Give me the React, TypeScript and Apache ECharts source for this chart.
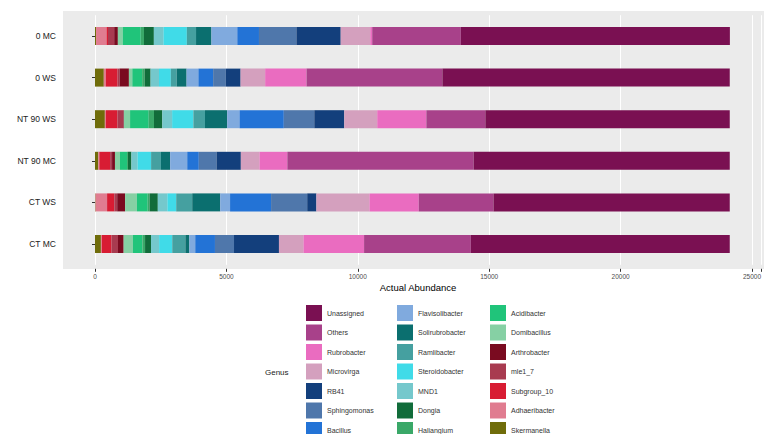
import React, { useEffect, useRef } from "react";
import * as echarts from "echarts";

const categories = ["0 MC", "0 WS", "NT 90 WS", "NT 90 MC", "CT WS", "CT MC"];
const xTicks = [0, 5000, 10000, 15000, 20000, 25000];

// values per genus, in category order above
const unassigned = [10240, 10935, 9300, 9745, 8990, 9855];
const others = [3370, 5170, 2245, 7090, 2845, 4060];
const rubrobacter = [75, 1575, 1870, 1060, 1875, 2305];
const microvirga = [1125, 935, 1255, 710, 2020, 935];
const rb41 = [1685, 560, 1140, 925, 350, 1710];
const sphingomonas = [1425, 485, 1160, 675, 1375, 725];
const bacillus = [825, 560, 1685, 440, 1560, 750];
const flavisolibacter = [985, 450, 470, 650, 375, 225];
const solirubrobacter = [585, 375, 845, 350, 1065, 150];
const ramlibacter = [350, 225, 440, 375, 610, 500];
const steroidobacter = [890, 450, 810, 515, 335, 500];
const mnd1 = [365, 320, 375, 235, 365, 310];
const dongia = [375, 225, 315, 130, 310, 225];
const haliangium = [125, 95, 200, 35, 75, 100];
const acidibacter = [685, 375, 710, 275, 410, 365];
const domibacillus = [185, 130, 235, 185, 450, 350];
const arthrobacter = [140, 355, 20, 110, 300, 215];
const mle17 = [235, 75, 225, 75, 110, 245];
const subgroup10 = [55, 450, 440, 410, 275, 365];
const adhaeribacter = [400, 75, 40, 40, 440, 40];
const skermanella = [40, 335, 375, 125, 20, 225];

const genera = [
  "Unassigned", "Others", "Rubrobacter", "Microvirga", "RB41", "Sphingomonas", "Bacillus",
  "Flavisolibacter", "Solirubrobacter", "Ramlibacter", "Steroidobacter", "MND1", "Dongia", "Haliangium",
  "Acidibacter", "Domibacillus", "Arthrobacter", "mle1_7", "Subgroup_10", "Adhaeribacter", "Skermanella",
];
const generaValues = [
  unassigned, others, rubrobacter, microvirga, rb41, sphingomonas, bacillus,
  flavisolibacter, solirubrobacter, ramlibacter, steroidobacter, mnd1, dongia, haliangium,
  acidibacter, domibacillus, arthrobacter, mle17, subgroup10, adhaeribacter, skermanella,
];
const palette = [
  "#7a1052", "#a8418a", "#ea6cc0", "#d4a0be", "#133f7c", "#4f77ab", "#2373d6",
  "#80aade", "#0b6f6f", "#45a0a0", "#40dbe8", "#75c8cc", "#116c3a", "#3aa868",
  "#20c47a", "#86d0a4", "#7a0b20", "#a83b50", "#d81c33", "#e07c90", "#6f6c0a",
];

const FONT = "'Liberation Sans', Arial, sans-serif";

export default function App() {
  const ref = useRef<HTMLDivElement>(null);
  useEffect(() => {
    if (!ref.current) return;
    const chart = echarts.init(ref.current, null, { renderer: "svg" });
    const order = genera.map((_, i) => i).reverse();
    const series = order.map((i) => ({
      name: genera[i],
      type: "bar",
      stack: "total",
      barWidth: 18,
      data: generaValues[i],
      itemStyle: { color: palette[i] },
      emphasis: { disabled: true },
    }));
    const legendCol = (k: number, left: number) => ({
      orient: "vertical",
      left,
      top: 305,
      height: 160,
      padding: 0,
      itemWidth: 16,
      itemHeight: 16,
      itemGap: 3.5,
      icon: "rect",
      selectedMode: false,
      data: genera.slice(k * 7, k * 7 + 7),
      textStyle: { fontSize: 7, color: "#333", fontFamily: FONT },
    });
    chart.setOption({
      animation: false,
      textStyle: { fontFamily: FONT },
      grid: { left: 95, top: 15.2, width: 677, height: 249.6, containLabel: false },
      xAxis: {
        type: "value",
        min: 0,
        max: 25365,
        interval: 5000,
        offset: 4,
        axisLine: { show: false },
        axisTick: { show: true, length: 3, lineStyle: { color: "#333" } },
        axisLabel: {
          fontSize: 6.5,
          color: "#4d4d4d",
          margin: 4,
          customValues: xTicks,
          formatter: (v: number) => String(v),
        },
        splitLine: { show: true, lineStyle: { color: "#ffffff", width: 1 } },
      },
      yAxis: {
        type: "category",
        data: categories,
        inverse: true,
        offset: 32,
        axisLine: { show: false },
        axisTick: { show: true, length: 3, alignWithLabel: true, lineStyle: { color: "#333" } },
        axisLabel: { fontSize: 8.5, color: "#222", margin: 7 },
        splitLine: { show: false },
      },
      legend: [legendCol(0, 306), legendCol(1, 397), legendCol(2, 490)],
      graphic: [
        {
          type: "rect",
          silent: true,
          z: -10,
          shape: { x: 63, y: 11, width: 709, height: 258 },
          style: { fill: "#ebebeb" },
        },
        {
          type: "text",
          silent: true,
          x: 418,
          y: 287,
          style: {
            text: "Actual Abundance",
            fontSize: 9.5,
            fill: "#000",
            align: "center",
            verticalAlign: "middle",
            fontFamily: FONT,
          },
        },
        {
          type: "text",
          silent: true,
          x: 265,
          y: 372,
          style: {
            text: "Genus",
            fontSize: 8,
            fill: "#222",
            align: "left",
            verticalAlign: "middle",
            fontFamily: FONT,
          },
        },
      ],
      series,
    });
    return () => chart.dispose();
  }, []);
  return (
    <div
      ref={ref}
      style={{ position: "fixed", left: 0, top: 0, width: 764, height: 470, background: "#fff" }}
    />
  );
}
